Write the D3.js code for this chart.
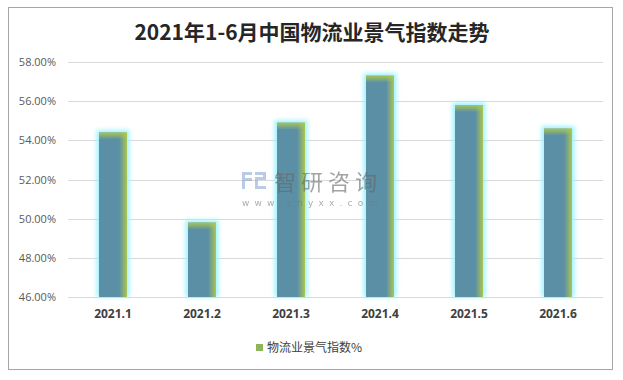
<!DOCTYPE html>
<html><head><meta charset="utf-8">
<script src="https://cdn.jsdelivr.net/npm/d3@7"></script>
<style>body{margin:0;background:#fff;}svg{display:block;}</style>
</head><body>
<script>
const categories = ["2021.1","2021.2","2021.3","2021.4","2021.5","2021.6"];
const values = [54.4, 49.8, 54.9, 57.3, 55.8, 54.6];
const yTicks = [46,48,50,52,54,56,58];
const title = "2021年1-6月中国物流业景气指数走势";
const seriesName = "物流业景气指数%";

const W = 623, H = 380;
const svg = d3.select("body").append("svg").attr("width", W).attr("height", H);
const defs = svg.append("defs");

const hg = defs.append("linearGradient").attr("id","hg").attr("x1","0").attr("x2","1").attr("y1","0").attr("y2","0");
hg.append("stop").attr("offset","0").attr("stop-color","#5b8fa6");
hg.append("stop").attr("offset","0.72").attr("stop-color","#5b8fa6");
hg.append("stop").attr("offset","1").attr("stop-color","#a9c652");
const vg = defs.append("linearGradient").attr("id","vg").attr("x1","0").attr("x2","0").attr("y1","0").attr("y2","1");
vg.append("stop").attr("offset","0").attr("stop-color","#a9c652").attr("stop-opacity",1);
vg.append("stop").attr("offset","1").attr("stop-color","#a9c652").attr("stop-opacity",0);
const glow = defs.append("filter").attr("id","glow").attr("x","-50%").attr("y","-50%").attr("width","200%").attr("height","200%");
glow.append("feGaussianBlur").attr("stdDeviation", 2);

// frame
svg.append("rect").attr("x",8.5).attr("y",7.5).attr("width",604).attr("height",362)
  .attr("fill","#fff").attr("stroke","#a6a6a6").attr("stroke-width",1);

svg.append("text").attr("x",312).attr("y",40).attr("text-anchor","middle")
  .attr("font-family","'Noto Sans CJK SC', sans-serif").attr("font-weight","bold")
  .attr("font-size",21).attr("fill","#262626").text(title);

const x = d3.scaleBand().domain(categories).range([68.5, 602.5]).padding(0);
const y = d3.scaleLinear().domain([46,58]).range([297,62]);

// gridlines
svg.append("g").selectAll("line").data(yTicks).join("line")
  .attr("x1",68).attr("x2",603).attr("y1",d=>Math.round(y(d))+0.5).attr("y2",d=>Math.round(y(d))+0.5)
  .attr("stroke","#d9d9d9").attr("stroke-width",1);

// y axis labels
const yAxis = d3.axisLeft(y).tickValues(yTicks).tickSize(0).tickPadding(0)
  .tickFormat(d => d.toFixed(2) + "%");
const ya = svg.append("g").attr("transform","translate(56,0)").call(yAxis);
ya.select(".domain").remove();
ya.selectAll("text").attr("font-family","'Open Sans', 'Liberation Sans', sans-serif")
  .attr("font-size",11).attr("fill","#595959");

// bars
const bw = 28;
const bars = svg.append("g").selectAll("g").data(categories.map((c,i)=>({c, v: values[i]}))).join("g");
bars.append("rect")
  .attr("x", d => x(d.c) + x.bandwidth()/2 - bw/2 - 2.5)
  .attr("y", d => y(d.v) - 2.5)
  .attr("width", bw + 5)
  .attr("height", d => y(46) - y(d.v) + 2.5)
  .attr("fill","#9ff3ff").attr("filter","url(#glow)");
bars.append("rect")
  .attr("x", d => x(d.c) + x.bandwidth()/2 - bw/2)
  .attr("y", d => y(d.v))
  .attr("width", bw)
  .attr("height", d => y(46) - y(d.v))
  .attr("fill","url(#hg)");
bars.append("rect")
  .attr("x", d => x(d.c) + x.bandwidth()/2 - bw/2)
  .attr("y", d => y(d.v))
  .attr("width", bw)
  .attr("height", 7)
  .attr("fill","url(#vg)");

// watermark (on top of bars)
const wm = svg.append("g").attr("opacity",0.6);
wm.append("path").attr("d","M242,172 h10 v3 h-7 v3 h7 v3 h-7 v8 h-3 z").attr("fill","#8fa8d4");
wm.append("path").attr("d","M255,172 h11 v8 h-8 v6 h8 v3 h-11 v-12 h8 v-2 h-8 z").attr("fill","#8fa8d4");
wm.append("text").attr("x",274).attr("y",190).attr("font-family","'Noto Sans CJK SC', sans-serif")
  .attr("font-size",22).attr("fill","#666").attr("letter-spacing",5).text("智研咨询");
wm.append("text").attr("x",242).attr("y",206).attr("font-family","'DejaVu Sans', sans-serif")
  .attr("font-size",9).attr("fill","#777").attr("letter-spacing",5.2).text("www.chyxx.com");

// x axis labels
const xAxis = d3.axisBottom(x).tickSize(0).tickPadding(0);
const xa = svg.append("g").attr("transform","translate(0,309)").call(xAxis);
xa.select(".domain").remove();
xa.selectAll("text").attr("font-family","'Open Sans', 'Liberation Sans', sans-serif")
  .attr("font-weight","bold").attr("font-size",12).attr("fill","#404040");

// legend
svg.append("rect").attr("x",256).attr("y",344).attr("width",7).attr("height",7).attr("fill","#8db55a");
svg.append("text").attr("x",267).attr("y",352).attr("font-family","'Noto Sans CJK SC', sans-serif")
  .attr("font-size",12).attr("fill","#404040").text(seriesName);
</script>
</body></html>
